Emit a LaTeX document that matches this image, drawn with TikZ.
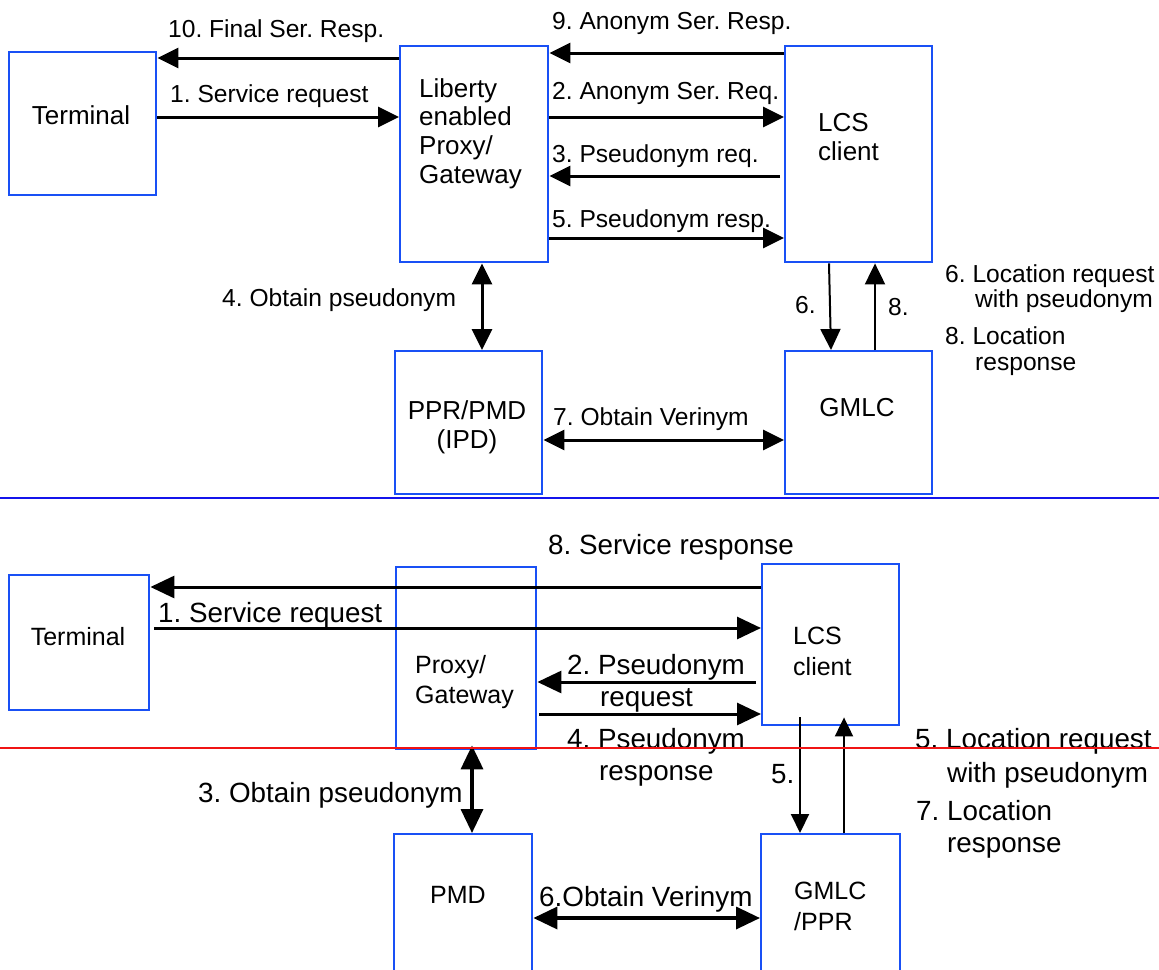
\documentclass[tikz,border=0pt]{standalone}
\usepackage{fontspec}
\setmainfont{Liberation Sans}
\usetikzlibrary{arrows.meta}
\definecolor{boxblue}{RGB}{25,80,245}
\definecolor{lineblue}{RGB}{20,20,235}
\definecolor{linered}{RGB}{240,20,20}
\frenchspacing
\tikzset{
  ht/.tip={Triangle[length=21pt,width=20pt]},
  hb/.tip={Triangle[length=24pt,width=22pt]},
  hs/.tip={Triangle[length=19pt,width=18pt]},
  box/.style={draw=boxblue, line width=2.4pt, inner sep=0pt, anchor=north west},
  tl/.style={font=\fontsize{24.6}{28}\selectfont, inner sep=0pt, anchor=base west},
  bl/.style={font=\fontsize{27.8}{32}\selectfont, inner sep=0pt, anchor=base west},
  tbx/.style={font=\fontsize{26}{30}\selectfont, inner sep=0pt, anchor=base west},
  bbx/.style={font=\fontsize{25}{30}\selectfont, inner sep=0pt, anchor=base west},
  tarr/.style={line width=3pt, -ht},
  tdarr/.style={line width=3pt, ht-ht},
  tthin/.style={line width=2pt, -ht},
  barr/.style={line width=3pt, -hb},
  bdarr/.style={line width=3.5pt, hb-hb},
  bthin/.style={line width=2pt, -hs},
}
\begin{document}
\frenchspacing
\begin{tikzpicture}[x=1pt,y=-1pt]
\useasboundingbox (0,0) rectangle (1159,969);
\clip (0,0) rectangle (1159,969);
% ---------- top diagram: boxes ----------
\node[box, minimum width=147, minimum height=143] (term) at (8,51) {};
\node[box, minimum width=148, minimum height=216] (lib) at (399,45) {};
\node[box, minimum width=147, minimum height=216] (lcs) at (784,45) {};
\node[box, minimum width=147, minimum height=143] (ppr) at (394,350) {};
\node[box, minimum width=147, minimum height=143] (gmlc) at (784,350) {};
% box texts
\node[tbx, anchor=base] (tTerm) at (81,124) {Terminal};
\node[tbx] (tLib1) at (419,97) {Liberty};
\node[tbx] (tLib2) at (419,125) {enabled};
\node[tbx] (tLib3) at (419,154) {Proxy/};
\node[tbx] (tLib4) at (419,183) {Gateway};
\node[tbx] (tLcs1) at (818,131) {LCS};
\node[tbx] (tLcs2) at (818,160) {client};
\node[tbx, anchor=base] (tPpr1) at (467,419) {PPR/PMD};
\node[tbx, anchor=base] (tPpr2) at (467,448) {(IPD)};
\node[tbx, anchor=base] (tGmlc) at (857,416) {GMLC};
% arrows
\draw[tarr] (lib.west |- 0,58) -- (term.east |- 0,58);
\draw[tarr] (term.east |- 0,117) -- (lib.west |- 0,117);
\draw[tarr] (lcs.west |- 0,53) -- (lib.east |- 0,53);
\draw[tarr] (lib.east |- 0,117) -- (lcs.west |- 0,117);
\draw[tarr] ([xshift=-4pt]lcs.west |- 0,176) -- (lib.east |- 0,176);
\draw[tarr] (lib.east |- 0,238) -- (lcs.west |- 0,238);
\draw[tdarr] (lib.south -| 482,0) -- (ppr.north -| 482,0);
\draw[tthin] (lcs.south -| 829,0) -- (gmlc.north -| 831,0);
\draw[tthin] (gmlc.north -| 875,0) -- (lcs.south -| 875,0);
\draw[tdarr] (ppr.east |- 0,440) -- (gmlc.west |- 0,440);
% labels
\node[tl] (l10) at (168,37) {10. Final Ser. Resp.};
\node[tl] (l1) at (170,102) {1. Service request};
\node[tl] (l9) at (552,29) {9. Anonym Ser. Resp.};
\node[tl] (l2) at (552,99) {2. Anonym Ser. Req.};
\node[tl] (l3) at (552,162) {3. Pseudonym req.};
\node[tl] (l5) at (552,227) {5. Pseudonym resp.};
\node[tl] (l4) at (222,306) {4. Obtain pseudonym};
\node[tl] (l6) at (795,313) {6.};
\node[tl] (l8) at (888,315) {8.};
\node[tl] (l7) at (553,425) {7. Obtain Verinym};
\node[tl] (r1) at (945,282) {6. Location request};
\node[tl] (r2) at (975,307) {with pseudonym};
\node[tl] (r3) at (945,344) {8. Location};
\node[tl] (r4) at (975,370) {response};
% separator
\draw[lineblue, line width=2pt] (0,498) -- (1159,498);
% ---------- bottom diagram: boxes ----------
\node[box, minimum width=140, minimum height=135] (term2) at (8,574) {};
\node[box, minimum width=140, minimum height=182] (proxy) at (395,566) {};
\node[box, minimum width=137, minimum height=161] (lcs2) at (761,563) {};
\node[box, minimum width=138, minimum height=150] (pmd) at (393,833) {};
\node[box, minimum width=139, minimum height=150] (gmlc2) at (760,833) {};
% box texts
\node[bbx, anchor=base] (bTerm) at (78,645) {Terminal};
\node[bbx] (bPx1) at (415,673) {Proxy/};
\node[bbx] (bPx2) at (415,703) {Gateway};
\node[bbx] (bLcs1) at (793,644) {LCS};
\node[bbx] (bLcs2) at (793,675) {client};
\node[bbx, anchor=base] (bPmd) at (458,903) {PMD};
\node[bbx] (bG1) at (794,899) {GMLC};
\node[bbx] (bG2) at (794,930) {/PPR};
% arrows
\draw[barr] (lcs2.west |- 0,587) -- (term2.east |- 0,587);
\draw[barr] ([xshift=4pt]term2.east |- 0,628) -- (lcs2.west |- 0,628);
\draw[barr] ([xshift=-5pt]lcs2.west |- 0,682) -- (proxy.east |- 0,682);
\draw[barr] ([xshift=2pt]proxy.east |- 0,714) -- (lcs2.west |- 0,714);
\draw[bthin] ([yshift=9pt]lcs2.south -| 800,0) -- (gmlc2.north -| 800,0);
\draw[bthin] (gmlc2.north -| 844,0) -- ([yshift=9pt]lcs2.south -| 844,0);
\draw[bdarr] ([yshift=5pt]proxy.south -| 472,0) -- (pmd.north -| 472,0);
\draw[bdarr] (pmd.east |- 0,918) -- (gmlc2.west |- 0,918);
% labels
\node[bl] (m8) at (548,554) {8. Service response};
\node[bl] (m1) at (158,622) {1. Service request};
\node[bl] (m2a) at (567,674) {2. Pseudonym};
\node[bl] (m2b) at (600,706) {request};
\node[bl] (m4a) at (567,748) {4. Pseudonym};
\node[bl] (m4b) at (599,780) {response};
\node[bl] (m5) at (771,783) {5.};
\node[bl] (m3) at (198,802) {3. Obtain pseudonym};
\node[bl] (m6) at (539,906) {6.Obtain Verinym};
\node[bl] (s1) at (915,748) {5. Location request};
\node[bl] (s2) at (947,782) {with pseudonym};
\node[bl] (s3) at (916,820) {7. Location};
\node[bl] (s4) at (947,852) {response};
% separator
\draw[linered, line width=2pt] (0,748) -- (1159,748);
\end{tikzpicture}
\end{document}
